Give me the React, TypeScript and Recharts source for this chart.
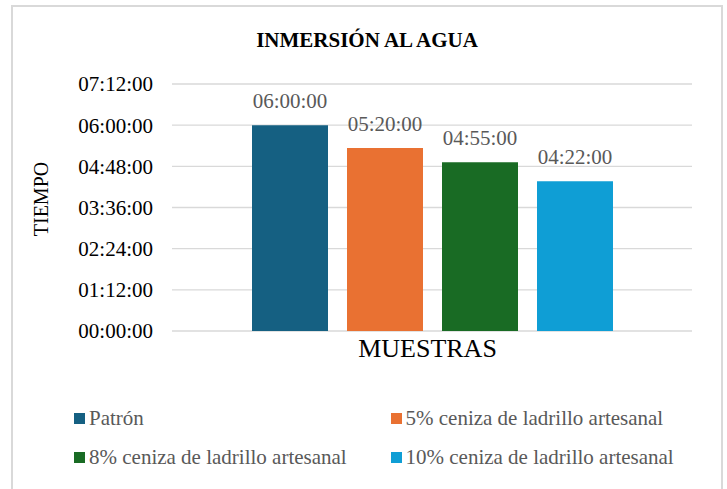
import { Bar, BarChart, CartesianGrid, Label, LabelList, Legend, XAxis, YAxis } from "recharts";

const categories = ["MUESTRAS"];
const seriesNames = [
  "Patrón",
  "5% ceniza de ladrillo artesanal",
  "8% ceniza de ladrillo artesanal",
  "10% ceniza de ladrillo artesanal"
];
const seriesTimes = ["06:00:00", "05:20:00", "04:55:00", "04:22:00"];
const seriesColors = ["#156082", "#E97132", "#196B24", "#0F9ED5"];
const yTickLabels = ["00:00:00", "01:12:00", "02:24:00", "03:36:00", "04:48:00", "06:00:00", "07:12:00"];

const FONT = "Liberation Serif";

function toSeconds(t: string): number {
  const [h, m, s] = t.split(":").map(Number);
  return h * 3600 + m * 60 + s;
}

function formatTime(v: number): string {
  const sec = Math.round(Number(v));
  const h = Math.floor(sec / 3600);
  const m = Math.floor((sec % 3600) / 60);
  const s = sec % 60;
  return [h, m, s].map((n) => String(n).padStart(2, "0")).join(":");
}

const yTicks = yTickLabels.map(toSeconds);

const data = categories.map((name) => {
  const row: Record<string, string | number> = { name };
  seriesTimes.forEach((t, i) => {
    row[`s${i}`] = toSeconds(t);
  });
  return row;
});

// two columns, in the order the series were declared
function LegendGrid({ payload }: { payload?: any[] }) {
  const items = [...(payload ?? [])].sort(
    (a, b) => seriesNames.indexOf(a.value) - seriesNames.indexOf(b.value)
  );
  return (
    <div style={{ position: "relative", width: 727, height: 80 }}>
      {items.map((entry, i) => (
        <div
          key={entry.value}
          style={{
            position: "absolute",
            left: i % 2 ? 390.5 : 74,
            top: i < 2 ? 8 : 46.5,
            height: 21,
            display: "flex",
            alignItems: "center",
            whiteSpace: "nowrap",
            fontFamily: FONT,
            fontSize: 21,
            lineHeight: "21px",
            color: "#595959"
          }}
        >
          <span style={{ width: 11, height: 11, background: entry.color, marginRight: 4 }} />
          {entry.value}
        </div>
      ))}
    </div>
  );
}

export default function App() {
  return (
    <div
      style={{
        position: "absolute",
        left: 0,
        top: 0,
        width: 727,
        height: 489,
        overflow: "hidden",
        background: "#fff"
      }}
    >
      <div
        style={{
          position: "absolute",
          left: 11,
          top: 5,
          width: 708,
          height: 600,
          border: "2px solid #d9d9d9"
        }}
      />
      <svg width={727} height={60} style={{ position: "absolute", left: 0, top: 0 }}>
        <text x={367} y={47} textAnchor="middle" fontFamily={FONT} fontWeight="bold" fontSize={21} fill="#000">
          INMERSIÓN AL AGUA
        </text>
      </svg>
      <div style={{ position: "absolute", left: 0, top: 0 }}>
        <BarChart
          width={727}
          height={489}
          data={data}
          margin={{ top: 84, right: 35, bottom: 118, left: 12 }}
          barCategoryGap={80}
          barGap={19}
        >
          <CartesianGrid vertical={false} stroke="#d9d9d9" strokeWidth={1.3} />
          <XAxis dataKey="name" tick={false} axisLine={false} tickLine={false} height={40}>
            <Label
              content={({ viewBox }: any) => (
                <text
                  x={viewBox.x + viewBox.width / 2 - 4.5}
                  y={viewBox.y + 26}
                  textAnchor="middle"
                  fontFamily={FONT}
                  fontSize={26}
                  fill="#000"
                >
                  MUESTRAS
                </text>
              )}
            />
          </XAxis>
          <YAxis
            width={160}
            domain={[0, yTicks[yTicks.length - 1]]}
            ticks={yTicks}
            tickFormatter={formatTime}
            axisLine={false}
            tickLine={false}
            tickSize={0}
            tickMargin={19}
            tick={{ fontFamily: FONT, fontSize: 21, fill: "#000" }}
          >
            <Label
              content={({ viewBox }: any) => {
                const x = viewBox.x + 36;
                const y = viewBox.y + viewBox.height / 2 - 8.5;
                return (
                  <text
                    x={x}
                    y={y}
                    transform={`rotate(-90, ${x}, ${y})`}
                    textAnchor="middle"
                    fontFamily={FONT}
                    fontSize={20}
                    fill="#000"
                  >
                    TIEMPO
                  </text>
                );
              }}
            />
          </YAxis>
          <Legend
            verticalAlign="middle"
            layout="horizontal"
            width={727}
            wrapperStyle={{ left: 0, top: 400, width: 727, height: 80 }}
            content={<LegendGrid />}
          />
          {seriesNames.map((name, i) => (
            <Bar key={name} dataKey={`s${i}`} name={name} fill={seriesColors[i]} isAnimationActive={false}>
              <LabelList
                dataKey={`s${i}`}
                position="top"
                offset={17}
                formatter={(v: any) => formatTime(v)}
                fontFamily={FONT}
                fontSize={21}
                fill="#595959"
              />
            </Bar>
          ))}
        </BarChart>
      </div>
    </div>
  );
}
